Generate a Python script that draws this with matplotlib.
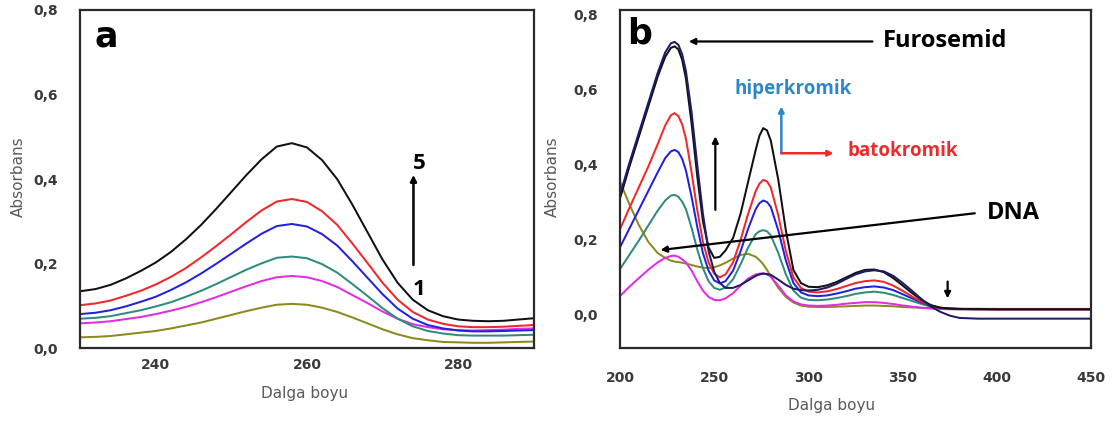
import matplotlib
matplotlib.use("Agg")
import matplotlib.pyplot as plt
from matplotlib.ticker import FuncFormatter

# ---------------- Panel a data ----------------
wl_a = [230, 232, 234, 236, 238, 240, 242, 244, 246, 248, 250, 252, 254, 256, 258,
        260, 262, 264, 266, 268, 270, 272, 274, 276, 278, 280, 282, 284, 286, 288, 290]
a_black = [0.135, 0.140, 0.150, 0.165, 0.183, 0.203, 0.228, 0.258, 0.292, 0.330, 0.370,
           0.410, 0.447, 0.477, 0.485, 0.475, 0.445, 0.400, 0.340, 0.275, 0.210, 0.155,
           0.115, 0.090, 0.076, 0.068, 0.065, 0.064, 0.065, 0.068, 0.071]
a_red = [0.102, 0.106, 0.113, 0.124, 0.136, 0.151, 0.169, 0.190, 0.215, 0.242, 0.270,
         0.299, 0.326, 0.347, 0.353, 0.346, 0.324, 0.292, 0.248, 0.202, 0.155, 0.115,
         0.086, 0.068, 0.058, 0.052, 0.050, 0.050, 0.051, 0.053, 0.055]
a_blue = [0.081, 0.084, 0.090, 0.099, 0.110, 0.122, 0.138, 0.156, 0.177, 0.200, 0.224,
          0.248, 0.271, 0.289, 0.294, 0.288, 0.270, 0.243, 0.206, 0.167, 0.128, 0.094,
          0.070, 0.055, 0.047, 0.042, 0.040, 0.040, 0.041, 0.042, 0.043]
a_teal = [0.070, 0.072, 0.076, 0.083, 0.090, 0.099, 0.109, 0.122, 0.136, 0.152, 0.169,
          0.186, 0.201, 0.214, 0.217, 0.213, 0.199, 0.179, 0.152, 0.124, 0.095, 0.070,
          0.052, 0.041, 0.035, 0.031, 0.030, 0.030, 0.030, 0.031, 0.032]
a_magenta = [0.059, 0.061, 0.064, 0.069, 0.074, 0.081, 0.089, 0.098, 0.109, 0.121, 0.134,
             0.147, 0.159, 0.168, 0.171, 0.168, 0.159, 0.145, 0.126, 0.107, 0.087, 0.070,
             0.057, 0.050, 0.045, 0.043, 0.042, 0.043, 0.044, 0.046, 0.047]
a_olive = [0.026, 0.027, 0.029, 0.033, 0.037, 0.041, 0.047, 0.054, 0.061, 0.070, 0.079,
           0.088, 0.096, 0.103, 0.105, 0.103, 0.096, 0.086, 0.073, 0.059, 0.045, 0.033,
           0.024, 0.019, 0.015, 0.014, 0.013, 0.013, 0.014, 0.015, 0.016]

# ---------------- Panel b data ----------------
wl_b = [200, 205, 210, 215,
        220, 224, 227, 229, 231, 233, 235,
        238, 241, 244, 247, 250, 253, 256, 260, 264, 268, 272,
        274, 276, 278, 280,
        284, 288, 292, 296, 300,
        305, 310, 315, 320, 325, 330, 335, 340, 345, 350, 355, 360, 365, 370, 375, 380,
        390, 400, 425, 450]
b_navy = [0.320, 0.405, 0.485, 0.565,
          0.645, 0.700, 0.724, 0.728, 0.720, 0.695, 0.650,
          0.540, 0.400, 0.270, 0.170, 0.115, 0.085, 0.072, 0.072, 0.080, 0.092, 0.104,
          0.108, 0.110, 0.109, 0.107,
          0.094, 0.080, 0.070, 0.066, 0.065,
          0.067, 0.073, 0.083, 0.096, 0.108, 0.116, 0.119, 0.116, 0.104, 0.085, 0.064,
          0.042, 0.022, 0.008, -0.002, -0.008,
          -0.010, -0.010, -0.010, -0.010]
b_black = [0.310, 0.395, 0.475, 0.555,
           0.635, 0.688, 0.712, 0.716, 0.708, 0.680, 0.630,
           0.510, 0.370, 0.250, 0.180, 0.152, 0.155, 0.172, 0.205, 0.270, 0.355, 0.440,
           0.478, 0.498, 0.492, 0.465,
           0.360, 0.225, 0.120, 0.085, 0.075,
           0.074, 0.079, 0.088, 0.100, 0.112, 0.120, 0.121, 0.114, 0.098, 0.078, 0.058,
           0.040, 0.026, 0.019, 0.017, 0.016,
           0.016, 0.015, 0.015, 0.015]
b_red = [0.228, 0.285, 0.340, 0.395,
         0.455, 0.505, 0.532, 0.538, 0.530, 0.508, 0.470,
         0.380, 0.280, 0.195, 0.140, 0.110, 0.100, 0.108, 0.140, 0.200, 0.270, 0.330,
         0.350, 0.360, 0.356, 0.340,
         0.265, 0.170, 0.100, 0.072, 0.062,
         0.060, 0.063, 0.069, 0.077, 0.085, 0.090, 0.092, 0.088, 0.078, 0.064, 0.049,
         0.035, 0.025, 0.019, 0.017, 0.016,
         0.015, 0.015, 0.015, 0.015]
b_blue = [0.180, 0.230, 0.280, 0.330,
          0.380, 0.418, 0.436, 0.440, 0.434, 0.416, 0.385,
          0.315, 0.235, 0.165, 0.118, 0.092, 0.084, 0.090, 0.118, 0.170, 0.230, 0.282,
          0.298, 0.305, 0.301, 0.288,
          0.225, 0.145, 0.085, 0.060, 0.052,
          0.050, 0.052, 0.057, 0.063, 0.070, 0.074, 0.076, 0.073, 0.066, 0.055, 0.044,
          0.033, 0.024, 0.019, 0.017, 0.016,
          0.015, 0.015, 0.015, 0.015]
b_teal = [0.122, 0.160, 0.198, 0.238,
          0.278, 0.305, 0.318, 0.320, 0.315, 0.302, 0.282,
          0.232, 0.175, 0.125, 0.090, 0.072, 0.067, 0.073, 0.095, 0.135, 0.180, 0.215,
          0.223, 0.226, 0.223, 0.212,
          0.165, 0.108, 0.065, 0.046, 0.040,
          0.039, 0.041, 0.045, 0.050, 0.056, 0.060, 0.062, 0.059, 0.053, 0.045, 0.037,
          0.029, 0.022, 0.018, 0.016, 0.015,
          0.015, 0.015, 0.015, 0.015]
b_magenta = [0.050, 0.075, 0.098, 0.120,
             0.140, 0.152, 0.157, 0.158, 0.155, 0.148, 0.140,
             0.118, 0.090, 0.065, 0.048, 0.040, 0.039, 0.044, 0.058, 0.078, 0.097, 0.108,
             0.110, 0.111, 0.108, 0.102,
             0.078, 0.052, 0.036, 0.028, 0.025,
             0.024, 0.025, 0.027, 0.030, 0.032, 0.034, 0.034, 0.032, 0.029, 0.025, 0.022,
             0.019, 0.017, 0.016, 0.015, 0.015,
             0.015, 0.015, 0.015, 0.015]
b_olive = [0.356, 0.295, 0.240, 0.195,
           0.165, 0.152, 0.145, 0.142, 0.141, 0.139, 0.137,
           0.133, 0.129, 0.126, 0.125, 0.127, 0.132, 0.139, 0.150, 0.160, 0.163, 0.155,
           0.146, 0.135, 0.120, 0.103,
           0.072, 0.048, 0.033, 0.025, 0.022,
           0.021, 0.021, 0.022, 0.023, 0.024, 0.025, 0.025, 0.024, 0.023, 0.021, 0.020,
           0.019, 0.018, 0.017, 0.016, 0.016,
           0.016, 0.016, 0.016, 0.016]

yticks = [0.0, 0.2, 0.4, 0.6, 0.8]
xticks_a = [240, 260, 280]
xticks_b = [200, 250, 300, 350, 400, 450]

C_BLACK = "#111111"
C_RED = "#f0282a"
C_BLUE = "#2222dd"
C_TEAL = "#2f8c7c"
C_MAG = "#e02ee0"
C_OLIVE = "#8c8a1e"
C_NAVY = "#1c1c6a"
TICK_C = "#3a3a3a"
LAB_C = "#5a5a5a"

fig = plt.figure(figsize=(11.13, 4.21), dpi=100)
ax_a = fig.add_axes([0.0722, 0.1727, 0.4072, 0.8036])
ax_b = fig.add_axes([0.5570, 0.1727, 0.4235, 0.8036])

comma = FuncFormatter(lambda v, p: f"{v:.1f}".replace(".", ","))

def style(ax, xpad):
    for s in ax.spines.values():
        s.set_linewidth(1.6)
        s.set_color("#2a2a2a")
    ax.tick_params(axis="both", length=0, labelsize=10, labelcolor=TICK_C)
    ax.tick_params(axis="x", pad=xpad)
    ax.tick_params(axis="y", pad=16)
    for lab in ax.get_xticklabels() + ax.get_yticklabels():
        lab.set_fontweight("bold")
    ax.yaxis.set_major_formatter(comma)

# Panel a
lw = 1.45
for ys, c in [(a_olive, C_OLIVE), (a_magenta, C_MAG), (a_teal, C_TEAL),
              (a_blue, C_BLUE), (a_red, C_RED), (a_black, C_BLACK)]:
    ax_a.plot(wl_a, ys, color=c, lw=lw, solid_joinstyle="round")
ax_a.set_xlim(230, 290)
ax_a.set_ylim(0, 0.8)
ax_a.set_xticks(xticks_a)
ax_a.set_yticks(yticks)
style(ax_a, 7)
ax_a.text(233.4, 0.737, "a", fontsize=25, fontweight="bold", ha="center", va="center")
ax_a.annotate("", xy=(274.1, 0.41), xytext=(274.1, 0.197),
              arrowprops=dict(arrowstyle="-|>", lw=1.8, color="black", mutation_scale=9,
                              shrinkA=0, shrinkB=0))
ax_a.text(274.8, 0.437, "5", fontsize=16, fontweight="bold", ha="center", va="center",
          family="Open Sans")
ax_a.text(274.8, 0.138, "1", fontsize=16, fontweight="bold", ha="center", va="center",
          family="Open Sans")

# Panel b
for ys, c in [(b_olive, C_OLIVE), (b_magenta, C_MAG), (b_teal, C_TEAL),
              (b_blue, C_BLUE), (b_red, C_RED), (b_black, C_BLACK), (b_navy, C_NAVY)]:
    ax_b.plot(wl_b, ys, color=c, lw=lw, solid_joinstyle="round")
ax_b.set_xlim(200, 450)
ax_b.set_ylim(-0.089, 0.813)
ax_b.set_xticks(xticks_b)
ax_b.set_yticks(yticks)
style(ax_b, 16)
ax_b.text(210.3, 0.751, "b", fontsize=25, fontweight="bold", ha="center", va="center")

arrow = dict(arrowstyle="-|>", lw=1.6, color="black", mutation_scale=9, shrinkA=0, shrinkB=0)
ax_b.annotate("", xy=(236.5, 0.729), xytext=(333.9, 0.729), arrowprops=arrow)
ax_b.text(339.5, 0.729, "Furosemid", fontsize=17, fontweight="bold", ha="left",
          va="center", family="Open Sans")
ax_b.text(260.9, 0.602, "hiperkromik", fontsize=13.5, fontweight="bold", ha="left",
          va="center", color="#2f86c8", family="Open Sans")
ax_b.annotate("", xy=(285.6, 0.556), xytext=(285.6, 0.431),
              arrowprops=dict(arrowstyle="-|>", lw=1.8, color="#2f86c8", mutation_scale=8,
                              shrinkA=0, shrinkB=0))
ax_b.annotate("", xy=(313.3, 0.431), xytext=(285.6, 0.431),
              arrowprops=dict(arrowstyle="-|>", lw=1.8, color="#ee2a2a", mutation_scale=8,
                              shrinkA=0, shrinkB=0))
ax_b.text(320.8, 0.436, "batokromik", fontsize=13.5, fontweight="bold", ha="left",
          va="center", color="#ee2a2a", family="Open Sans")
ax_b.annotate("", xy=(250.6, 0.476), xytext=(250.6, 0.28), arrowprops=arrow)
ax_b.annotate("", xy=(221.5, 0.173), xytext=(388.2, 0.271), arrowprops=arrow)
ax_b.text(394.8, 0.271, "DNA", fontsize=17, fontweight="bold", ha="left", va="center",
          family="Open Sans")
ax_b.annotate("", xy=(373.8, 0.044), xytext=(373.8, 0.089), arrowprops=arrow)

# Axis labels
fig.text(0.0162, 0.5796, "Absorbans", rotation=90, ha="center", va="center",
         fontsize=11, color=LAB_C)
fig.text(0.496, 0.5796, "Absorbans", rotation=90, ha="center", va="center",
         fontsize=11, color=LAB_C)
fig.text(0.274, 0.0665, "Dalga boyu", ha="center", va="center", fontsize=11, color=LAB_C)
fig.text(0.747, 0.038, "Dalga boyu", ha="center", va="center", fontsize=11, color=LAB_C)

fig.savefig("out.png", dpi=100, facecolor="white")
